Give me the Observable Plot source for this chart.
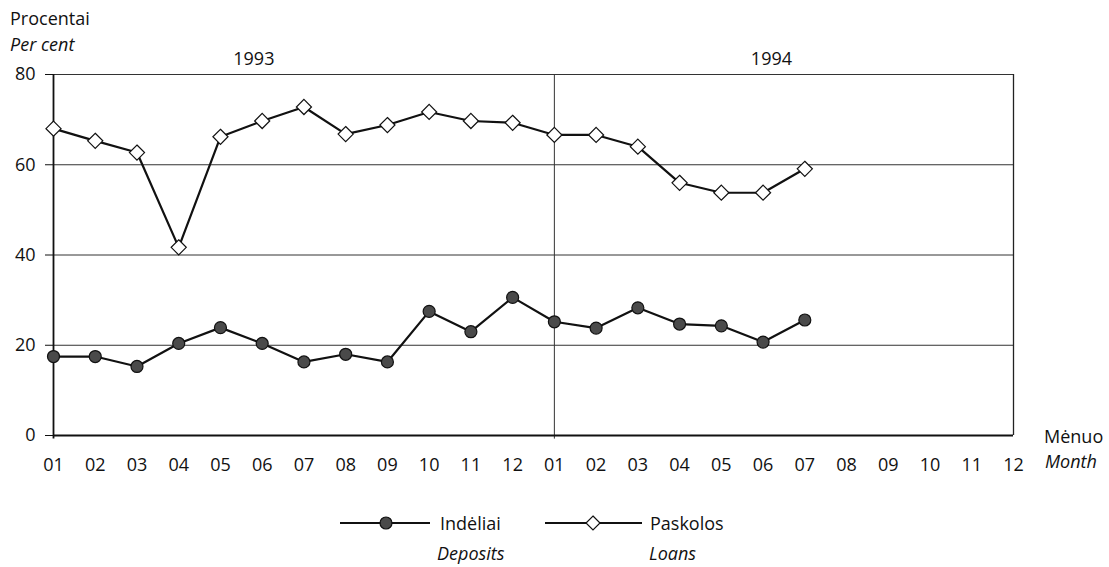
<!DOCTYPE html>
<html>
<head>
<meta charset="utf-8">
<script src="https://cdn.jsdelivr.net/npm/d3@7"></script>
<script src="https://cdn.jsdelivr.net/npm/@observablehq/plot@0.6"></script>
<style>
  body { margin: 0; background: #fff; font-family: "Open Sans", sans-serif; color: #111; }
  #wrap { position: relative; width: 1109px; height: 567px; }
  .lbl { position: absolute; font-size: 18px; line-height: 1; white-space: nowrap; }
  .it { font-style: italic; }
  #legend { position: absolute; left: 0; top: 490px; width: 1109px; height: 77px; }
</style>
</head>
<body>
<div id="wrap">
  <div id="chart"></div>
  <div class="lbl" style="left:10px;top:9px;">Procentai</div>
  <div class="lbl it" style="left:10px;top:35px;">Per cent</div>
  <div class="lbl" style="left:1044px;top:427px;">Mėnuo</div>
  <div class="lbl it" style="left:1045px;top:452px;">Month</div>
  <div id="legend">
    <svg width="1109" height="77" style="position:absolute;left:0;top:0">
      <line x1="340" x2="430" y1="33" y2="33" stroke="#111" stroke-width="2"/>
      <circle cx="386" cy="33" r="6" fill="#4a4a4a" stroke="#111" stroke-width="1.2"/>
      <line x1="545" x2="642" y1="33" y2="33" stroke="#111" stroke-width="2"/>
      <polygon points="593,26 600,33 593,40 586,33" fill="#fff" stroke="#111" stroke-width="1.2"/>
    </svg>
    <div class="lbl" style="left:440px;top:24px;">Indėliai</div>
    <div class="lbl it" style="left:437px;top:54px;">Deposits</div>
    <div class="lbl" style="left:650px;top:24px;">Paskolos</div>
    <div class="lbl it" style="left:649px;top:54px;">Loans</div>
  </div>
</div>
<script>
const months = ["01","02","03","04","05","06","07","08","09","10","11","12",
                "01","02","03","04","05","06","07","08","09","10","11","12"];
const deposits = [17.5,17.5,15.3,20.4,23.9,20.4,16.3,18.0,16.3,27.5,23.0,30.6,
                  25.2,23.8,28.3,24.7,24.3,20.7,25.6];
const loans = [68.0,65.3,62.7,41.7,66.2,69.7,72.8,66.8,68.8,71.7,69.7,69.3,
               66.6,66.6,64.0,56.0,53.8,53.8,59.1];
const years = ["1993","1994"];
const yearPos = [4.8, 17.2];
const yTicks = [0,20,40,60,80];
const gridY = [20,40,60,80];

const diamond = d3.symbolDiamond2 || "diamond";
const idx = (d, i) => i;

const chart = Plot.plot({
  width: 1109,
  height: 490,
  marginTop: 74,
  marginLeft: 53,
  marginRight: 96,
  marginBottom: 55,
  style: { fontFamily: "Open Sans, sans-serif", fontSize: "18px", color: "#111", background: "#fff" },
  x: { domain: [0, 23], ticks: d3.range(24), tickFormat: i => months[i], tickSize: 0, tickPadding: 23, label: null },
  y: { domain: [0, 80], ticks: yTicks, tickSize: 8, tickPadding: 10, label: null },
  marks: [
    Plot.ruleY(gridY, { stroke: "#333", strokeWidth: 1 }),
    Plot.ruleX([12], { y1: -0.8, y2: 80, stroke: "#333", strokeWidth: 1 }),
    Plot.ruleX([23], { y1: 0, y2: 80, stroke: "#222", strokeWidth: 1.3 }),
    Plot.ruleX([0], { y1: -0.8, y2: 80, stroke: "#111", strokeWidth: 1.8 }),
    Plot.ruleY([0], { stroke: "#111", strokeWidth: 1.8 }),
    Plot.line(deposits, { x: idx, y: d => d, stroke: "#111", strokeWidth: 2.2 }),
    Plot.dot(deposits, { x: idx, y: d => d, r: 6, fill: "#4a4a4a", stroke: "#111", strokeWidth: 1.2 }),
    Plot.line(loans, { x: idx, y: d => d, stroke: "#111", strokeWidth: 2.2 }),
    Plot.dot(loans, { x: idx, y: d => d, symbol: diamond, r: 6.8, fill: "#fff", stroke: "#111", strokeWidth: 1.2 }),
    Plot.text(years, { x: (d, i) => yearPos[i], text: d => d, frameAnchor: "top", dy: -22, fontSize: 18, fill: "#111" })
  ]
});
document.getElementById("chart").appendChild(chart);
</script>
</body>
</html>
